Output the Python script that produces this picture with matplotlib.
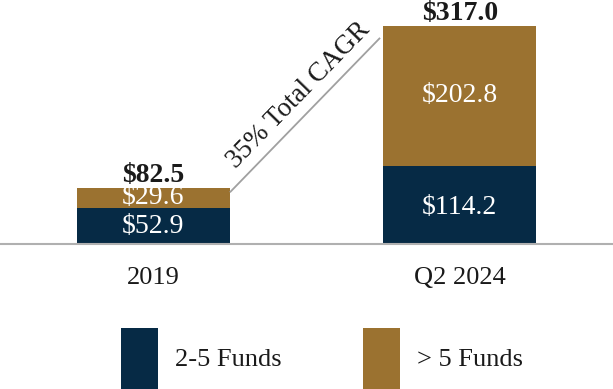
import matplotlib
matplotlib.use("Agg")
import matplotlib.pyplot as plt
from matplotlib.patches import Patch
import numpy as np

categories = ["2019", "Q2 2024"]
funds_2_5 = [52.9, 114.2]
funds_gt5 = [29.6, 202.8]
totals = [82.5, 317.0]
series_names = ["2-5 Funds", "> 5 Funds"]
cagr_label = "35% Total CAGR"

navy = "#062a45"
gold = "#9b7230"

plt.rcParams['font.family'] = ['Liberation Serif', 'DejaVu Serif']

fig = plt.figure(figsize=(6.13, 3.89), dpi=100)
ax = fig.add_axes([0, (389 - 244.3) / 389, 1, 244.3 / 389])

x = np.arange(len(categories))
w = 0.5
ax.bar(x, funds_2_5, w, color=navy, label=series_names[0])
ax.bar(x, funds_gt5, w, bottom=funds_2_5, color=gold, label=series_names[1])

ax.set_xlim(-0.5, 1.5)
ax.set_ylim(0, 355)

fs = 19
vfs = 20
for i in range(len(categories)):
    ax.annotate(f"${funds_2_5[i]:.1f}", (x[i], funds_2_5[i] / 2), xytext=(0, -1.5 * i),
                textcoords='offset points', ha='center', va='center',
                color='white', fontsize=vfs)
    ax.text(x[i], funds_2_5[i] + funds_gt5[i] / 2, f"${funds_gt5[i]:.1f}", ha='center',
            va='center', color='white', fontsize=vfs)
    ax.annotate(f"${totals[i]:.1f}", (x[i], totals[i]), xytext=(0, 0),
                textcoords='offset points', ha='center', va='bottom',
                fontsize=vfs, fontweight='bold', color='#1a1a1a')

for s in ['top', 'right', 'left']:
    ax.spines[s].set_visible(False)
ax.spines['bottom'].set_color('#b0b0b0')
ax.spines['bottom'].set_linewidth(1.5)
ax.set_yticks([])
ax.set_xticks(x)
ax.set_xticklabels(categories, fontsize=fs, color='#1a1a1a')
ax.tick_params(axis='x', length=0, pad=16)

# CAGR connector line
x0 = x[0] + w / 2
x1 = x[1] - w / 2 - 0.01
y0 = totals[0] - 7
y1 = totals[1] - 17
ax.plot([x0, x1], [y0, y1], color='#a0a0a0', lw=1.3, solid_capstyle='butt')

fig.canvas.draw()
p0 = ax.transData.transform((x0, y0))
p1 = ax.transData.transform((x1, y1))
ang = np.degrees(np.arctan2(p1[1] - p0[1], p1[0] - p0[0]))
mx, my = (x0 + x1) / 2, (y0 + y1) / 2
perp = np.radians(ang + 90)
along = np.radians(ang)
off = 4
shift = 7
ax.annotate(cagr_label, (mx, my),
            xytext=(off * np.cos(perp) + shift * np.cos(along),
                    off * np.sin(perp) + shift * np.sin(along)),
            textcoords='offset points', rotation=ang, rotation_mode='anchor',
            ha='center', va='bottom', fontsize=19.5, color='#1a1a1a')

handles = [Patch(facecolor=navy), Patch(facecolor=gold)]
fig.legend(handles, series_names, loc='center', bbox_to_anchor=(0.5253, 0.0784),
           ncol=2, frameon=False, fontsize=fs, handlelength=1.4, handleheight=3.18,
           handletextpad=0.65, columnspacing=3.11, labelcolor='#1a1a1a')

fig.savefig("out.png", dpi=100)
